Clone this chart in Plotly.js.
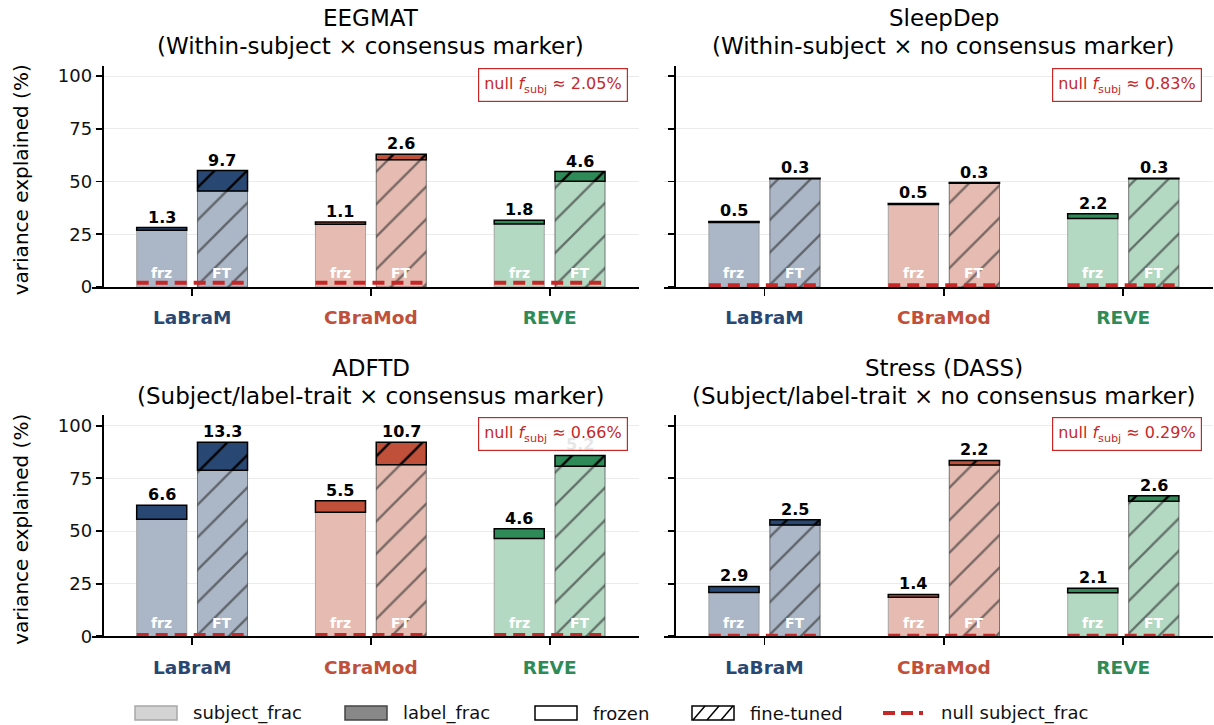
<!DOCTYPE html>
<html>
<head>
<meta charset="utf-8">
<script src="https://cdn.plot.ly/plotly-3.0.1.min.js"></script>
<style>html,body{margin:0;padding:0;background:#fff;}#chart{width:1214px;height:725px;}</style>
</head>
<body>
<div id="chart"></div>
<script>
// ---------------- DATA ----------------
const models = ['LaBraM', 'CBraMod', 'REVE'];
const panelTitles = ['EEGMAT', 'SleepDep', 'ADFTD', 'Stress (DASS)'];
const panelSubtitles = [
  '(Within-subject × consensus marker)',
  '(Within-subject × no consensus marker)',
  '(Subject/label-trait × consensus marker)',
  '(Subject/label-trait × no consensus marker)'
];
const yTickVals = [0, 25, 50, 75, 100];

// EEGMAT
const eegmatFrzSubject = [26.9, 29.7, 29.9];
const eegmatFrzLabel   = [1.3, 1.1, 1.8];
const eegmatFtSubject  = [45.5, 60.3, 50.1];
const eegmatFtLabel    = [9.7, 2.6, 4.6];
const eegmatNull = 2.05;
// SleepDep
const sleepFrzSubject = [30.6, 39.1, 32.5];
const sleepFrzLabel   = [0.5, 0.5, 2.2];
const sleepFtSubject  = [51.3, 49.2, 51.3];
const sleepFtLabel    = [0.3, 0.3, 0.3];
const sleepNull = 0.83;
// ADFTD
const adftdFrzSubject = [55.6, 58.9, 46.5];
const adftdFrzLabel   = [6.6, 5.5, 4.6];
const adftdFtSubject  = [78.9, 81.5, 80.7];
const adftdFtLabel    = [13.3, 10.7, 5.2];
const adftdNull = 0.66;
// Stress (DASS)
const stressFrzSubject = [20.8, 18.5, 20.7];
const stressFrzLabel   = [2.9, 1.4, 2.1];
const stressFtSubject  = [52.8, 81.3, 64.1];
const stressFtLabel    = [2.5, 2.2, 2.6];
const stressNull = 0.29;

// ---------------- STYLE ----------------
const darkColors  = ['#284873', '#c1503a', '#2e8b57'];
const lightColors = ['#abb7c7', '#e6bcb2', '#b4d9c3'];
const FONT = 'DejaVu Sans, Verdana, sans-serif';
const W = 1214, H = 725;
const px = x => x / W;
const py = y => 1 - y / H;

const panels = [
  {fs: eegmatFrzSubject, fl: eegmatFrzLabel, ts: eegmatFtSubject, tl: eegmatFtLabel, nul: eegmatNull},
  {fs: sleepFrzSubject, fl: sleepFrzLabel, ts: sleepFtSubject, tl: sleepFtLabel, nul: sleepNull},
  {fs: adftdFrzSubject, fl: adftdFrzLabel, ts: adftdFtSubject, tl: adftdFtLabel, nul: adftdNull},
  {fs: stressFrzSubject, fl: stressFrzLabel, ts: stressFtSubject, tl: stressFtLabel, nul: stressNull}
];

// geometry in pixels
const xDom = [[92, 639], [664, 1213], [92, 639], [664, 1213]];
const yDom = [[287, 65.5], [287, 65.5], [636.3, 415.2], [636.3, 415.2]];
const XR = [-0.56, 2.5];
const OFF = 0.17, BW = 0.28;

const data = [];
const annotations = [];
const shapes = [];
const layout = {
  width: W, height: H,
  margin: {l: 0, r: 0, t: 0, b: 0},
  paper_bgcolor: '#ffffff', plot_bgcolor: 'rgba(0,0,0,0)',
  barmode: 'overlay', showlegend: false,
  font: {family: FONT, color: '#000'},
};

const tickText = models.map((m, i) => `<b><span style="color:${darkColors[i]}">${m}</span></b>`);

panels.forEach((p, k) => {
  const sfx = k === 0 ? '' : String(k + 1);
  const xa = 'x' + sfx, ya = 'y' + sfx;
  const xd = [px(xDom[k][0]), px(xDom[k][1])];
  const yd = [py(yDom[k][0]), py(yDom[k][1])];
  const yPos = xd[0] + (xd[1] - xd[0]) * ((-0.5 - XR[0]) / (XR[1] - XR[0]));

  layout['xaxis' + sfx] = {
    domain: xd, anchor: ya, range: XR, fixedrange: true,
    tickvals: [0, 1, 2], ticktext: tickText,
    ticks: 'outside', ticklen: 7, tickwidth: 1.8, tickcolor: '#000',
    showline: true, linewidth: 2, linecolor: '#000',
    showgrid: false, zeroline: false,
    tickfont: {size: 18.5, family: FONT}, ticklabelstandoff: 6
  };
  layout['yaxis' + sfx] = {
    domain: yd, anchor: 'free', position: yPos, range: [0, 105], fixedrange: true,
    tickvals: yTickVals, ticks: 'outside', ticklen: 6, tickwidth: 1.8, tickcolor: '#000',
    showline: true, linewidth: 2, linecolor: '#000',
    showgrid: true, gridcolor: '#ebebeb', gridwidth: 1, zeroline: false,
    showticklabels: (k % 2 === 0), tickfont: {size: 18, family: FONT, color: '#111'}
  };

  const xFrz = models.map((m, i) => i - OFF);
  const xFt = models.map((m, i) => i + OFF);
  const hatchOnly = (col) => ({color: col, line: {width: 0},
    pattern: {shape: '/', fillmode: 'replace', bgcolor: 'rgba(0,0,0,0)', size: 23, solidity: 0.1}});

  // frozen subject
  data.push({type: 'bar', x: xFrz, y: p.fs, base: 0, width: BW, xaxis: xa, yaxis: ya,
    marker: {color: lightColors, line: {color: 'rgba(150,150,150,0.8)', width: 1}}, hoverinfo: 'skip'});
  // frozen label
  data.push({type: 'bar', x: xFrz, y: p.fl, base: p.fs, width: BW, xaxis: xa, yaxis: ya,
    marker: {color: darkColors, line: {color: '#000', width: 1.5}}, hoverinfo: 'skip'});
  // FT subject: fill + hatch overlay
  data.push({type: 'bar', x: xFt, y: p.ts, base: 0, width: BW, xaxis: xa, yaxis: ya,
    marker: {color: lightColors, line: {color: 'rgba(70,70,70,0.7)', width: 1}}, hoverinfo: 'skip'});
  data.push({type: 'bar', x: xFt, y: p.ts, base: 0, width: BW, xaxis: xa, yaxis: ya,
    marker: hatchOnly('rgba(45,45,45,0.6)'), hoverinfo: 'skip'});
  // FT label: fill + hatch overlay
  data.push({type: 'bar', x: xFt, y: p.tl, base: p.ts, width: BW, xaxis: xa, yaxis: ya,
    marker: {color: darkColors, line: {color: '#000', width: 1.5}}, hoverinfo: 'skip'});
  data.push({type: 'bar', x: xFt, y: p.tl, base: p.ts, width: BW, xaxis: xa, yaxis: ya,
    marker: hatchOnly('#000000'), hoverinfo: 'skip'});

  // null line segments
  const nx = [], ny = [];
  models.forEach((m, i) => { nx.push(i - 0.31, i + 0.31, null); ny.push(p.nul, p.nul, null); });
  data.push({type: 'scatter', mode: 'lines', x: nx, y: ny, xaxis: xa, yaxis: ya,
    line: {color: '#c62828', width: 4, dash: '12px,7px'}, hoverinfo: 'skip'});

  // value labels & frz/FT labels
  models.forEach((m, i) => {
    annotations.push({xref: xa, yref: ya, x: i - OFF, y: p.fs[i] + p.fl[i], text: `<b>${p.fl[i].toFixed(1)}</b>`,
      showarrow: false, yanchor: 'bottom', yshift: -1, font: {size: 16, family: FONT, color: '#000'}});
    annotations.push({xref: xa, yref: ya, x: i + OFF, y: p.ts[i] + p.tl[i], text: `<b>${p.tl[i].toFixed(1)}</b>`,
      showarrow: false, yanchor: 'bottom', yshift: -1, font: {size: 16, family: FONT, color: '#000'}});
    annotations.push({xref: xa, yref: ya, x: i - OFF, y: 6.5, text: '<b>frz</b>', showarrow: false,
      yanchor: 'middle', font: {size: 14, family: FONT, color: '#ffffff'}});
    annotations.push({xref: xa, yref: ya, x: i + OFF, y: 6.5, text: '<b>FT</b>', showarrow: false,
      yanchor: 'middle', font: {size: 14, family: FONT, color: '#ffffff'}});
  });

  // null annotation box
  annotations.push({xref: xa + ' domain', yref: ya + ' domain', x: 0.98, y: 0.99, xanchor: 'right', yanchor: 'top',
    text: `null <i>f</i><sub>subj</sub> ≈ ${p.nul.toFixed(2)}%`, showarrow: false,
    font: {size: 16, family: FONT, color: '#c62828'}, bgcolor: 'rgba(255,255,255,0.9)',
    bordercolor: '#c62828', borderwidth: 1.2, borderpad: 5});

  // titles (two lines)
  const yTop = yDom[k][1];
  const axCenter = xDom[k][0] + (xDom[k][1] - xDom[k][0]) * ((1 - XR[0]) / (XR[1] - XR[0]));
  annotations.push({xref: 'paper', yref: 'paper', x: px(axCenter), y: py(yTop - 47), text: panelTitles[k],
    showarrow: false, xanchor: 'center', yanchor: 'middle', font: {size: 23, family: FONT, color: '#000'}});
  annotations.push({xref: 'paper', yref: 'paper', x: px(axCenter), y: py(yTop - 19), text: panelSubtitles[k],
    showarrow: false, xanchor: 'center', yanchor: 'middle', font: {size: 23, family: FONT, color: '#000'}});

  if (k % 2 === 0) {
    annotations.push({xref: 'paper', yref: 'paper', x: px(21), y: py((yDom[k][0] + yDom[k][1]) / 2 + 4),
      text: 'variance explained (%)', textangle: -90, showarrow: false, xanchor: 'center', yanchor: 'middle',
      font: {size: 20, family: FONT, color: '#000'}});
  }
});

// ---------------- LEGEND (manual) ----------------
const legendItems = [
  {x0: 135, text: 'subject_frac', kind: 'subject'},
  {x0: 345, text: 'label_frac', kind: 'label'},
  {x0: 535, text: 'frozen', kind: 'frozen'},
  {x0: 692, text: 'fine-tuned', kind: 'ft'},
  {x0: 883, text: 'null subject_frac', kind: 'null'}
];
const LY0 = 706, LY1 = 720, SW = 42;
legendItems.forEach(it => {
  const x0 = it.x0, x1 = it.x0 + SW;
  if (it.kind === 'null') {
    shapes.push({type: 'line', xref: 'paper', yref: 'paper', x0: px(x0), x1: px(x1 - 2), y0: py(713), y1: py(713),
      line: {color: '#c62828', width: 4, dash: '12px,6px'}});
  } else {
    const fill = it.kind === 'subject' ? '#d3d3d3' : it.kind === 'label' ? '#888888' : '#ffffff';
    const lc = it.kind === 'subject' ? '#a8a8a8' : it.kind === 'label' ? '#444444' : '#000000';
    shapes.push({type: 'rect', xref: 'paper', yref: 'paper', x0: px(x0), x1: px(x1), y0: py(LY1), y1: py(LY0),
      fillcolor: fill, line: {color: lc, width: 1.5}});
    if (it.kind === 'ft') {
      [[x0 + 1, x0 + 13], [x0 + 15, x0 + 27], [x0 + 29, x0 + 41]].forEach(s => {
        shapes.push({type: 'line', xref: 'paper', yref: 'paper', x0: px(s[0]), x1: px(s[1]), y0: py(LY1), y1: py(LY0),
          line: {color: '#000', width: 1.5}});
      });
    }
  }
  annotations.push({xref: 'paper', yref: 'paper', x: px(x1 + 14), y: py(713), xanchor: 'left', yanchor: 'middle',
    text: it.text, showarrow: false, font: {size: 18, family: FONT, color: '#111'}});
});

layout.annotations = annotations;
layout.shapes = shapes;

Plotly.newPlot('chart', data, layout, {displayModeBar: false, staticPlot: true});
</script>
</body>
</html>
